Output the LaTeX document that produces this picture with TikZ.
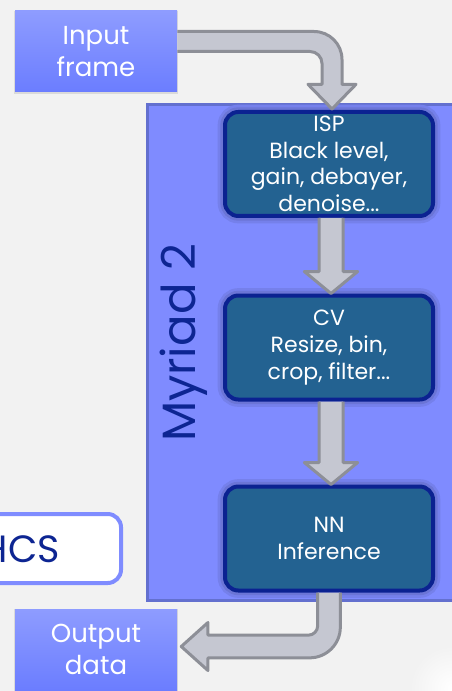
\documentclass[tikz,border=0pt]{standalone}
\usepackage{fontspec}
\setmainfont{Poppins}
\usetikzlibrary{calc}
\definecolor{bgcol}{HTML}{F2F2F2}
\definecolor{myrfill}{HTML}{7F8BFF}
\definecolor{myrline}{HTML}{6370CF}
\definecolor{darkfill}{HTML}{236291}
\definecolor{darkline}{HTML}{0B2291}
\definecolor{navy}{HTML}{0D2592}
\definecolor{arrowfill}{HTML}{C5C7D1}
\definecolor{arrowline}{HTML}{8D8F97}
\definecolor{iotop}{HTML}{8E9CFF}
\definecolor{iobot}{HTML}{6B7DFF}
\definecolor{hcsline}{HTML}{7F8CFF}
\tikzset{
  stagebox/.style={draw=darkline, fill=darkfill, line width=3pt, rounded corners=10pt,
    minimum width=156pt, minimum height=78pt, text=white, align=center,
    font=\fontsize{16.5}{20}\selectfont, inner sep=0pt,
    preaction={draw=myrfill!92!black, line width=11pt},
    preaction={draw=myrfill!84!black, line width=7pt}},
  iobox/.style={top color=iotop, bottom color=iobot, minimum width=121.5pt, minimum height=60.75pt,
    text=white, align=center, font=\fontsize{19.5}{24}\selectfont, inner sep=0pt,
    preaction={draw=bgcol!90!black, line width=1.5pt, transform canvas={yshift=-1pt}}},
  blockarrow/.style={fill=arrowfill, draw=arrowline, line width=2.25pt, line join=round},
}
\begin{document}
\begin{tikzpicture}[x=0.75pt,y=-0.75pt]
\useasboundingbox (0,0) rectangle (452,691);
\clip (0,0) rectangle (452,691);
\fill[bgcol] (0,0) rectangle (452,691);
\shade[inner color=white, outer color=bgcol] (452,688) circle[radius=42];
\draw[myrline, fill=myrfill, line width=2.25pt] (147,105) rectangle (460,600);

\node[rotate=90, anchor=base, text=navy, font=\fontsize{35}{42}\selectfont, inner sep=0pt] (myrlabel) at (195,343) {Myriad 2};

\node[draw=hcsline, fill=white, line width=3pt, rounded corners=10pt, minimum width=165.75pt, minimum height=51.75pt, inner sep=0pt] (hcs) at (10.5,548.5) {};
\node[anchor=base east, text=navy, font=\fontsize{28.5}{34}\selectfont, inner sep=0pt] (hcstext) at (60,562) {HCS};

\node[iobox] (in) at (96,51.5) {Input\\frame};
\node[iobox] (out) at (96,649.5) {Output\\data};
\node[stagebox] (isp) at (329,164) {ISP\\Black level,\\gain, debayer,\\denoise...};
\node[stagebox] (cv) at (329,347.5) {CV\\Resize, bin,\\crop, filter...};
\node[stagebox] (nn) at (329,538.5) {NN\\Inference};

% input frame -> ISP
\coordinate (a1s) at ($(in.east)+(0,-10)$);
\coordinate (a1e) at ($(isp.north)+(3,-1)$);
\draw[blockarrow] let \p1=(a1s), \p2=(a1e) in
  (\x1,\y1+7.5pt) -- (\x2-13.5pt,\y1+7.5pt)
  .. controls (\x2-1.9pt,\y1+7.5pt) and (\x2+7.5pt,\y1-1.9pt) .. (\x2+7.5pt,\y1-13.5pt)
  -- (\x2+7.5pt,\y2+18.5pt) -- (\x2+18pt,\y2+18.5pt) -- (\x2,\y2) -- (\x2-18pt,\y2+18.5pt)
  -- (\x2-7.5pt,\y2+18.5pt) -- (\x2-7.5pt,\y1-16.5pt)
  .. controls (\x2-7.5pt,\y1-11.53pt) and (\x2-11.53pt,\y1-7.5pt) .. (\x2-16.5pt,\y1-7.5pt)
  -- (\x1,\y1-7.5pt);
% ISP -> CV
\draw[blockarrow] let \p1=(isp.south), \p2=(cv.north) in
  (\x1-7.5pt,\y1) -- (\x1-7.5pt,\y2+16.5pt) -- (\x1-18.5pt,\y2+16.5pt) -- (\x1+1.5pt,\y2)
  -- (\x1+21.5pt,\y2+16.5pt) -- (\x1+10.5pt,\y2+16.5pt) -- (\x1+10.5pt,\y1);
% CV -> NN
\draw[blockarrow] let \p1=(cv.south), \p2=(nn.north) in
  (\x1-7.5pt,\y1) -- (\x1-7.5pt,\y2+16.5pt) -- (\x1-18.5pt,\y2+16.5pt) -- (\x1+1.5pt,\y2)
  -- (\x1+21.5pt,\y2+16.5pt) -- (\x1+10.5pt,\y2+16.5pt) -- (\x1+10.5pt,\y1);
% NN -> output data
\coordinate (a4s) at (nn.south);
\coordinate (a4e) at ($(out.east)+(4,-3)$);
\draw[blockarrow] let \p1=(a4s), \p2=(a4e) in
  (\x1-8.5pt,\y1) -- (\x1-8.5pt,\y2+15.5pt)
  .. controls (\x1-8.5pt,\y2+11.63pt) and (\x1-11.63pt,\y2+8.5pt) .. (\x1-15.5pt,\y2+8.5pt)
  -- (\x2+20pt,\y2+8.5pt) -- (\x2+20pt,\y2+18pt) -- (\x2,\y2) -- (\x2+20pt,\y2-18pt)
  -- (\x2+20pt,\y2-8.5pt) -- (\x1-14.5pt,\y2-8.5pt)
  .. controls (\x1-1.8pt,\y2-8.5pt) and (\x1+8.5pt,\y2+1.8pt) .. (\x1+8.5pt,\y2+14.5pt)
  -- (\x1+8.5pt,\y1);
\end{tikzpicture}
\end{document}
